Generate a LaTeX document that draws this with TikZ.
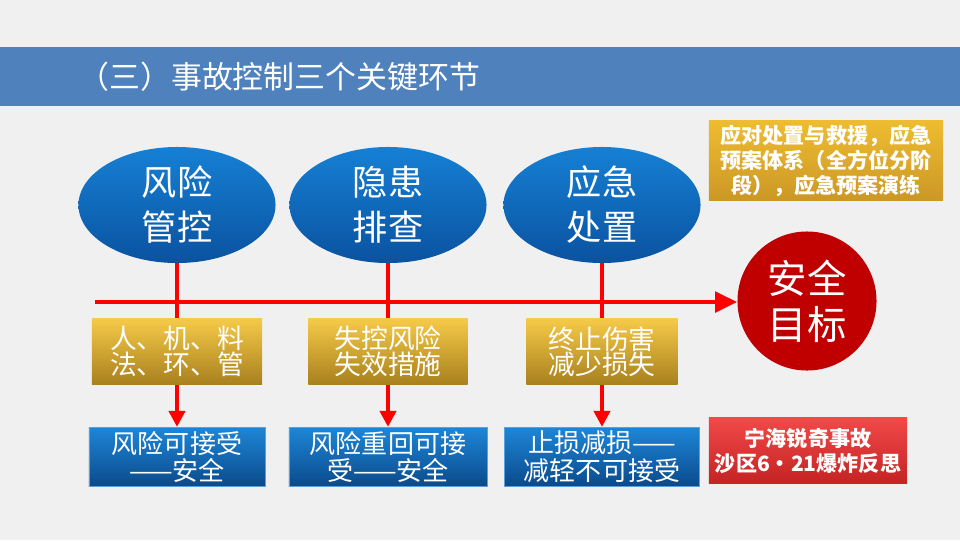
\documentclass[tikz,border=0pt]{standalone}
\usepackage{fontspec}
\setmainfont{Noto Sans CJK SC}
\usetikzlibrary{arrows.meta,positioning,shapes.geometric}

\definecolor{pagegray}{RGB}{240,240,240}
\definecolor{barblue}{RGB}{79,129,189}
\definecolor{ellitop}{RGB}{22,128,212}
\definecolor{ellibot}{RGB}{10,82,160}
\definecolor{goldtop}{RGB}{246,202,72}
\definecolor{goldbot}{RGB}{168,128,30}
\definecolor{plantop}{RGB}{238,188,48}
\definecolor{planbot}{RGB}{204,152,38}
\definecolor{boxtop}{RGB}{30,134,214}
\definecolor{boxbot}{RGB}{10,74,140}
\definecolor{boxedge}{RGB}{90,160,220}
\definecolor{casetop}{RGB}{242,72,72}
\definecolor{casebot}{RGB}{196,36,36}
\definecolor{goalred}{RGB}{192,0,0}
\definecolor{linered}{RGB}{255,0,0}

\begin{document}
\begin{tikzpicture}[
    x=0.025cm, y=-0.025cm,
    every node/.style={text=white, align=center, inner sep=0pt},
    title/.style={font=\fontsize{22}{26}\selectfont},
    key/.style={ellipse, minimum width=4.925cm, minimum height=2.9cm, top color=ellitop, bottom color=ellibot, font=\fontsize{25}{32}\selectfont},
    goal/.style={circle, minimum size=3.475cm, fill=goalred, font=\fontsize{28}{33}\selectfont},
    fix/.style={minimum height=1.65cm, top color=goldtop, bottom color=goldbot, font=\fontsize{19}{15.5}\selectfont},
    result/.style={minimum height=1.475cm, draw=boxedge, line width=0.6pt, top color=boxtop, bottom color=boxbot, font=\fontsize{18.5}{19.5}\selectfont},
    plan/.style={minimum width=5.85cm, minimum height=1.975cm, top color=plantop, bottom color=planbot, font=\bfseries\fontsize{15}{17.8}\selectfont},
    case/.style={minimum width=4.95cm, minimum height=1.625cm, top color=casetop, bottom color=casebot, font=\bfseries\fontsize{15}{17.8}\selectfont},
    mainline/.style={draw=linered, line width=3.5pt, -{Triangle[length=0.55cm, width=0.5cm]}},
    link/.style={draw=linered, line width=3pt},
    drop/.style={draw=linered, line width=3pt, -{Triangle[length=0.4cm, width=0.4cm]}}
]
% page and title bar
\fill[pagegray] (0,0) rectangle (960,540);
\fill[barblue] (0,47) rectangle (960,106);
\node[title, anchor=west] (title) at (78,77) {（三）事故控制三个关键环节};

% three key links
\node[key] (risk) at (177,205) {风险\\管控};
\node[key] (hazard) at (388,205) {隐患\\排查};
\node[key] (emerg) at (602,205) {应急\\处置};
\node[goal] (goal) at (807,301) {安全\\目标};

\node[fix, minimum width=4.25cm, below=1.375cm of risk] (riskfix) {人、机、料\\法、环、管};
\node[fix, minimum width=3.975cm, below=1.375cm of hazard] (hazardfix) {失控风险\\失效措施};
\node[fix, minimum width=3.775cm, below=1.375cm of emerg, font=\fontsize{19}{18}\selectfont] (emergfix) {终止伤害\\减少损失};

\node[result, minimum width=4.4cm, below=1.05cm of riskfix] (riskok) {风险可接受\\——安全};
\node[result, minimum width=4.95cm, below=1.05cm of hazardfix] (hazardok) {风险重回可接\\受——安全};
\node[result, minimum width=4.875cm, below=1.05cm of emergfix] (emergok) {止损减损——\\减轻不可接受};

\node[plan] (plan) at (826,160.5) {应对处置与救援，应急\\预案体系（全方位分阶\\段），应急预案演练};
\node[case] (case) at (808,450.5) {宁海锐奇事故\\沙区6・21爆炸反思};

% connectors
\coordinate (lstart) at (95,302);
\draw[mainline] (lstart) -- (lstart -| goal.west);
\foreach \k in {risk,hazard,emerg} {
  \draw[link] (\k.south) -- (\k fix.north);
  \draw[drop] (\k fix.south) -- (\k ok.north);
}
\end{tikzpicture}
\end{document}
